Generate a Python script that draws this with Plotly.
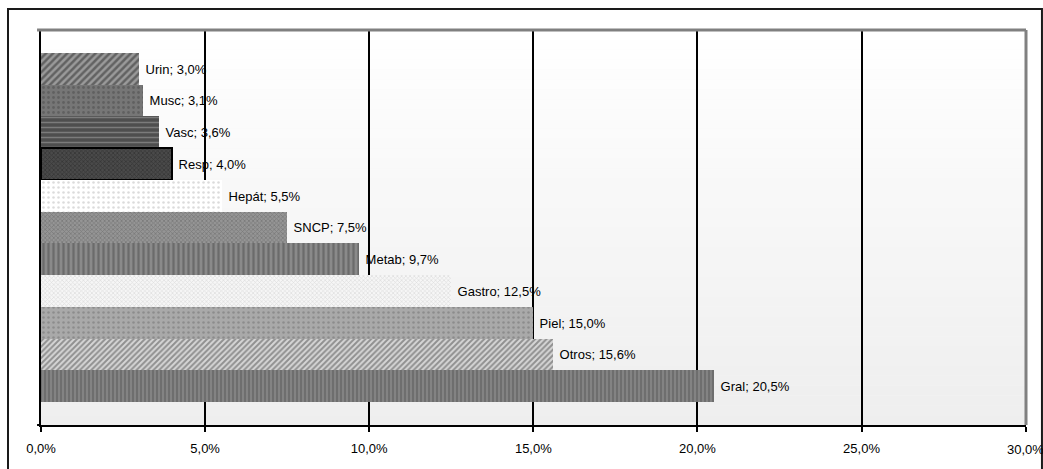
import plotly.graph_objects as go

# Adverse-event share by organ system (percent)
categories = ["Urin", "Musc", "Vasc", "Resp", "Hepát", "SNCP",
              "Metab", "Gastro", "Piel", "Otros", "Gral"]
values = [3.0, 3.1, 3.6, 4.0, 5.5, 7.5, 9.7, 12.5, 15.0, 15.6, 20.5]
tick_values = [0, 5, 10, 15, 20, 25, 30]
tick_labels = ["0,0%", "5,0%", "10,0%", "15,0%", "20,0%", "25,0%", "30,0%"]

# Grayscale fill patterns, one per bar (top to bottom)
pat_shape = ["/", ".", "-", "x", ".", "x", "|", "x", ".", "/", "|"]
pat_fg = ["#2a2a2a", "#4a4a4a", "#a8a8a8", "#222222", "#b8b8b8", "#5e5e5e",
          "#4c4c4c", "#c4c4c4", "#707070", "#4a4a4a", "#b4b4b4"]
pat_bg = ["#9a9a9a", "#767676", "#4e4e4e", "#4a4a4a", "#ffffff", "#959595",
          "#8a8a8a", "#f6f6f6", "#a9a9a9", "#d6d6d6", "#6e6e6e"]
pat_size = [5, 5, 5, 3, 5, 3, 5, 3, 5, 4, 4]
pat_solid = [0.5, 0.25, 0.3, 0.45, 0.2, 0.45, 0.45, 0.4, 0.2, 0.5, 0.3]
edge_w = [0, 0, 0, 2, 0, 0, 0, 0, 0, 0, 0]

FONT = "Liberation Sans, Arial, sans-serif"

fig = go.Figure()
for i, (cat, val) in enumerate(zip(categories, values)):
    label = "\u00a0" + f"{cat}; {val:.1f}%".replace(".", ",")
    fig.add_trace(go.Bar(
        x=[val],
        y=[cat],
        orientation="h",
        width=1,
        text=[label],
        textposition="outside",
        textfont=dict(family=FONT, size=13, color="#000"),
        constraintext="none",
        cliponaxis=False,
        marker=dict(
            color=pat_bg[i],
            line=dict(color="#000000", width=edge_w[i]),
            pattern=dict(shape=pat_shape[i], fgcolor=pat_fg[i], bgcolor=pat_bg[i],
                         size=pat_size[i], solidity=pat_solid[i]),
        ),
        hoverinfo="skip",
    ))

# Soft vertical gradient behind the plot area
shapes = []
n_strips = 40
for i in range(n_strips):
    g = int(round(255 - (255 - 238) * (i + 0.5) / n_strips))
    shapes.append(dict(
        type="rect", xref="paper", yref="paper", layer="below",
        x0=0, x1=1, y0=1 - (i + 1) / n_strips, y1=1 - i / n_strips,
        line=dict(width=0), fillcolor=f"rgb({g},{g},{g})",
    ))
# Gray top and right border of the plot area
shapes.append(dict(type="line", xref="paper", yref="paper", x0=-0.004, x1=1.0, y0=1, y1=1,
                   line=dict(color="#808080", width=3)))
shapes.append(dict(type="line", xref="paper", yref="paper", x0=1.0, x1=1.0, y0=0, y1=1,
                   line=dict(color="#808080", width=3)))
# Short stub of the baseline left of the value axis
shapes.append(dict(type="line", xref="paper", yref="paper", x0=-0.004, x1=0, y0=0, y1=0,
                   line=dict(color="#000000", width=2)))
# Outer chart frame
shapes.append(dict(type="rect", xref="paper", yref="paper",
                   x0=-0.0335, x1=1.0162, y0=-0.2, y1=1.0532,
                   line=dict(color="#1a1a1a", width=2), fillcolor="rgba(0,0,0,0)"))

# The last tick label sits at the page edge; draw it as an annotation so it
# does not push the plot margins
axis_text = tick_labels[:-1] + [""]
annotations = [dict(
    x=tick_values[-1], xref="x", y=0, yref="paper",
    yanchor="top", xanchor="center", yshift=-15,
    text=tick_labels[-1], showarrow=False,
    font=dict(family=FONT, size=13, color="#000"),
)]

fig.update_layout(
    width=1043, height=469,
    margin=dict(l=41, r=17, t=30, b=44),
    paper_bgcolor="#ffffff",
    plot_bgcolor="#f6f6f6",
    showlegend=False,
    barmode="overlay",
    bargap=0,
    shapes=shapes,
    annotations=annotations,
    font=dict(family=FONT, size=12, color="#000"),
    xaxis=dict(
        range=[0, 30.01],
        tickvals=tick_values,
        ticktext=axis_text,
        ticklabelstandoff=5,
        automargin=False,
        showgrid=True, gridcolor="#000000", gridwidth=2,
        showline=True, linecolor="#000000", linewidth=2,
        ticks="outside", ticklen=5, tickwidth=2, tickcolor="#000000",
        tickfont=dict(family=FONT, size=13, color="#000"),
        zeroline=False,
        fixedrange=True,
    ),
    yaxis=dict(
        categoryorder="array",
        categoryarray=categories,
        range=[11.225, -1.225],
        showticklabels=False,
        showgrid=False,
        showline=True, linecolor="#000000", linewidth=2,
        ticks="",
        zeroline=False,
        automargin=False,
        fixedrange=True,
    ),
)

fig.write_html("out.html")
